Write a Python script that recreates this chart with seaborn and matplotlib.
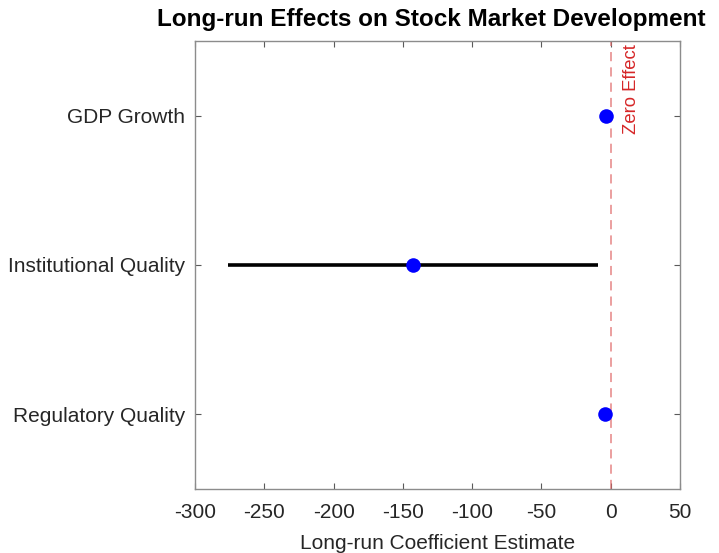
import matplotlib
matplotlib.use("Agg")
import matplotlib.pyplot as plt
import seaborn as sns
import pandas as pd

variables = ["GDP Growth", "Institutional Quality", "Regulatory Quality"]
estimates = [-3.5, -142.5, -4.0]
ci_lower = [-4.5, -276.0, -5.0]
ci_upper = [-2.5, -9.0, -3.0]

df = pd.DataFrame({
    "variable": variables,
    "estimate": estimates,
    "lower": ci_lower,
    "upper": ci_upper,
})
df["pos"] = range(1, len(df) + 1)

sns.set_theme(style="white")
plt.rcParams["font.family"] = ["Liberation Sans", "DejaVu Sans"]
plt.rcParams["axes.unicode_minus"] = False

fig = plt.figure(figsize=(7.19, 5.53), dpi=100)
ax = fig.add_axes([0.2712, 0.1157, 0.6746, 0.8102])

# confidence intervals
for _, r in df.iterrows():
    ax.plot([r["lower"], r["upper"]], [r["pos"], r["pos"]], color="black",
            linewidth=2.6, solid_capstyle="butt", zorder=2)

sns.scatterplot(data=df, x="estimate", y="pos", ax=ax, color="#0000ff",
                s=110, edgecolor="#0000ff", linewidth=0, zorder=3, legend=False)

ax.axvline(0, color="#e06666", linestyle=(0, (6, 4)), linewidth=1.1, alpha=0.8, zorder=1)
ax.text(9, 0.52, "Zero Effect", rotation=90, color="#d62728", fontsize=13.3,
        ha="left", va="top")

ax.set_xlim(-300, 50)
ax.set_ylim(3.5, 0.5)
ax.set_xticks(range(-300, 51, 50))
ax.set_yticks(df["pos"])
ax.set_yticklabels(df["variable"])

for side in ["top", "bottom", "left", "right"]:
    ax.spines[side].set_visible(True)
    ax.spines[side].set_color("#8c8c8c")
    ax.spines[side].set_linewidth(1.0)

ax.tick_params(axis="both", direction="in", length=4, width=0.8, color="#5a5a5a",
               labelsize=15, labelcolor="#262626", top=True, right=True,
               bottom=True, left=True)
ax.tick_params(axis="x", pad=10)
ax.tick_params(axis="y", pad=7)

ax.set_xlabel("Long-run Coefficient Estimate", fontsize=15, color="#262626", labelpad=9)
ax.set_ylabel("")
ax.set_title("Long-run Effects on Stock Market Development", fontsize=17.5,
             fontweight="bold", color="black", pad=11, x=0.487)

fig.savefig("out.png", dpi=100)
